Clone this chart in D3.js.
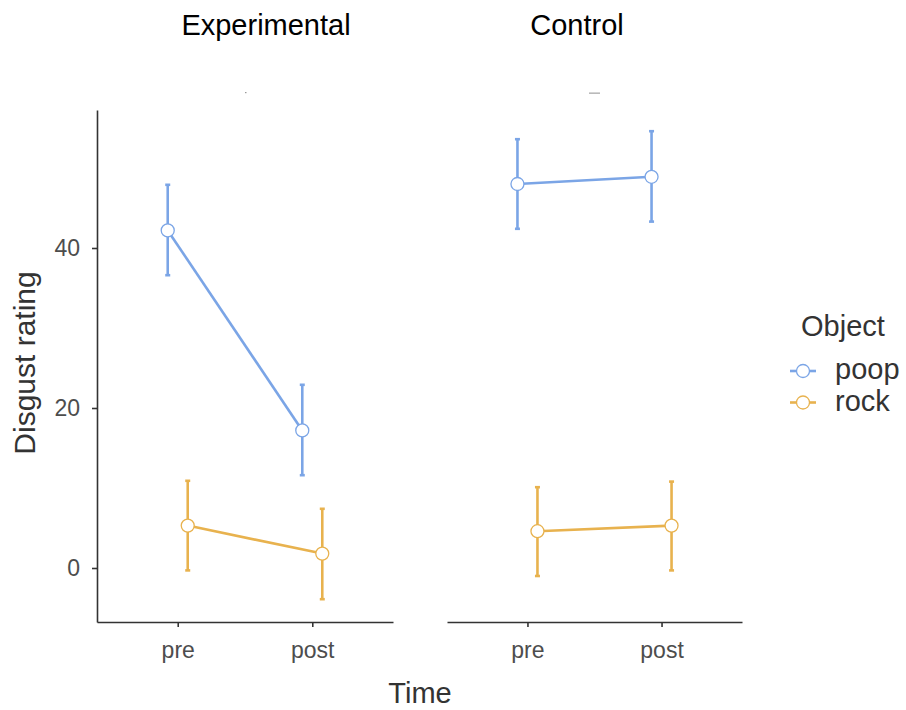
<!DOCTYPE html>
<html>
<head>
<meta charset="utf-8">
<script src="https://cdn.jsdelivr.net/npm/d3@7"></script>
<style>
  body { margin: 0; background: #fff; }
  text { font-family: "Liberation Sans", Arial, sans-serif; }
</style>
</head>
<body>
<div id="chart"></div>
<script>
// data
var groups = ["Experimental", "Control"];
var times = ["pre", "post"];
var objects = ["poop", "rock"];
var yTicks = [0, 20, 40];

// mean, lower, upper per group / object / time
var expPoop = [{ t: "pre", m: 42.2, lo: 36.6, hi: 47.9 }, { t: "post", m: 17.2, lo: 11.6, hi: 22.9 }];
var expRock = [{ t: "pre", m: 5.3, lo: -0.3, hi: 10.9 }, { t: "post", m: 1.8, lo: -3.9, hi: 7.4 }];
var ctlPoop = [{ t: "pre", m: 48.0, lo: 42.4, hi: 53.6 }, { t: "post", m: 48.9, lo: 43.3, hi: 54.6 }];
var ctlRock = [{ t: "pre", m: 4.6, lo: -1.0, hi: 10.1 }, { t: "post", m: 5.3, lo: -0.3, hi: 10.8 }];

var colors = { poop: "#7ba5e6", rock: "#e8b24e" };

var width = 906, height = 710;
var svg = d3.select("#chart").append("svg")
    .attr("width", width)
    .attr("height", height);

var plotTop = 110, plotBottom = 622;
var y = d3.scaleLinear()
    .domain([-6.75, 57.25])
    .range([plotBottom, plotTop]);

var panels = [
    { name: groups[0], x0: 97, x1: 393, titleX: 266, series: { poop: expPoop, rock: expRock }, yaxis: true },
    { name: groups[1], x0: 447, x1: 742, titleX: 577, series: { poop: ctlPoop, rock: ctlRock }, yaxis: false }
];

var dodge = { poop: -10, rock: 10 };

panels.forEach(function (p) {
    var x = d3.scalePoint()
        .domain(times)
        .range([p.x0, p.x1])
        .padding(0.6);

    var g = svg.append("g");

    // panel title
    g.append("text")
        .attr("x", p.titleX)
        .attr("y", 35)
        .attr("text-anchor", "middle")
        .attr("font-size", "29px")
        .attr("fill", "#000")
        .text(p.name);

    // x axis
    var xAxis = g.append("g")
        .attr("transform", "translate(0," + plotBottom + ")")
        .call(d3.axisBottom(x).tickSize(5).tickPadding(15).tickSizeOuter(0));
    xAxis.attr("font-size", null).attr("font-family", null);
    xAxis.select(".domain").attr("stroke", "#333").attr("stroke-width", 1.6);
    xAxis.selectAll(".tick line").attr("stroke", "#333").attr("stroke-width", 1.6);
    xAxis.selectAll(".tick text")
        .style("font-size", "23px")
        .attr("fill", "#4d4d4d");

    if (p.yaxis) {
        var yAxis = g.append("g")
            .attr("transform", "translate(" + p.x0 + ",0)")
            .call(d3.axisLeft(y).tickValues(yTicks).tickSize(5).tickPadding(12).tickSizeOuter(0));
        yAxis.attr("font-size", null).attr("font-family", null);
        yAxis.select(".domain").attr("stroke", "#333").attr("stroke-width", 1.6);
        yAxis.selectAll(".tick line").attr("stroke", "#333").attr("stroke-width", 1.6);
        yAxis.selectAll(".tick text")
            .style("font-size", "23px")
            .attr("fill", "#4d4d4d");
    }

    objects.forEach(function (o) {
        var d = p.series[o];
        var c = colors[o];
        var px = function (v) { return x(v.t) + dodge[o]; };

        // error bars
        var eb = g.selectAll(".eb-" + o).data(d).enter().append("g");
        eb.append("line")
            .attr("x1", px).attr("x2", px)
            .attr("y1", function (v) { return y(v.lo); })
            .attr("y2", function (v) { return y(v.hi); })
            .attr("stroke", c).attr("stroke-width", 2.6);
        ["lo", "hi"].forEach(function (k) {
            eb.append("line")
                .attr("x1", function (v) { return px(v) - 2.5; })
                .attr("x2", function (v) { return px(v) + 2.5; })
                .attr("y1", function (v) { return y(v[k]); })
                .attr("y2", function (v) { return y(v[k]); })
                .attr("stroke", c).attr("stroke-width", 2.6);
        });

        // line
        g.append("path")
            .datum(d)
            .attr("d", d3.line().x(px).y(function (v) { return y(v.m); }))
            .attr("fill", "none")
            .attr("stroke", c)
            .attr("stroke-width", 2.6);

        // points
        g.selectAll(".pt-" + o).data(d).enter().append("circle")
            .attr("cx", px)
            .attr("cy", function (v) { return y(v.m); })
            .attr("r", 6.5)
            .attr("fill", "#fff")
            .attr("stroke", c)
            .attr("stroke-width", 1.3);
    });
});

// stray marks under the titles
svg.append("rect").attr("x", 245).attr("y", 92).attr("width", 1.5).attr("height", 1.2).attr("fill", "#999");
svg.append("rect").attr("x", 589).attr("y", 92.5).attr("width", 11).attr("height", 1.3).attr("fill", "#aaa");

// axis titles
svg.append("text")
    .attr("x", 420)
    .attr("y", 703)
    .attr("text-anchor", "middle")
    .attr("font-size", "29px")
    .attr("fill", "#333")
    .text("Time");

svg.append("text")
    .attr("transform", "translate(35,363) rotate(-90)")
    .attr("text-anchor", "middle")
    .attr("font-size", "30px")
    .attr("fill", "#333")
    .text("Disgust rating");

// legend
svg.append("text")
    .attr("x", 801)
    .attr("y", 336)
    .attr("font-size", "29px")
    .attr("fill", "#333")
    .text("Object");

objects.forEach(function (o, i) {
    var ly = 371 + i * 31.5;
    svg.append("line")
        .attr("x1", 790).attr("x2", 816)
        .attr("y1", ly).attr("y2", ly)
        .attr("stroke", colors[o]).attr("stroke-width", 2.6);
    svg.append("circle")
        .attr("cx", 803).attr("cy", ly)
        .attr("r", 6.5)
        .attr("fill", "#fff")
        .attr("stroke", colors[o])
        .attr("stroke-width", 1.3);
    svg.append("text")
        .attr("x", 835)
        .attr("y", ly + 8)
        .attr("font-size", "29px")
        .attr("fill", "#333")
        .text(o);
});
</script>
</body>
</html>
